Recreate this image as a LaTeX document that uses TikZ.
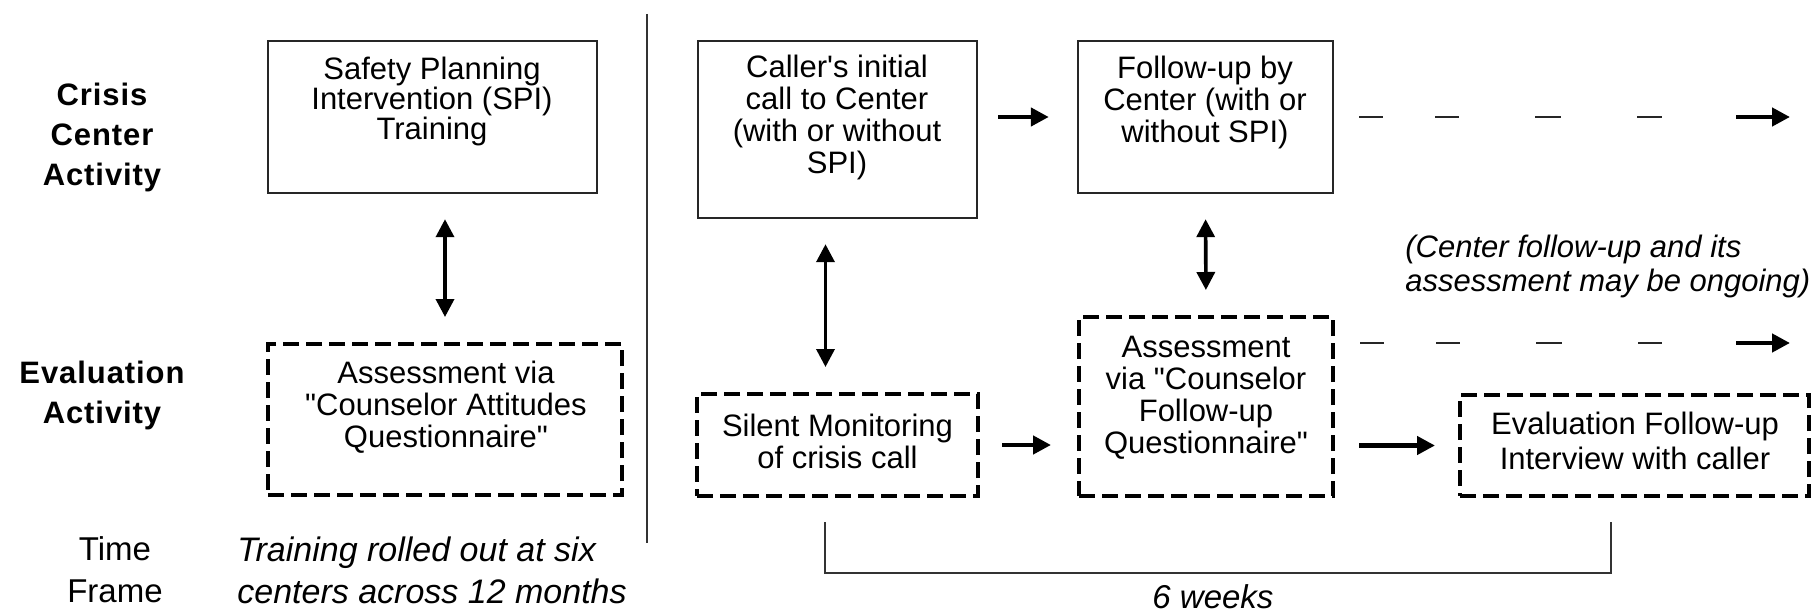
\documentclass[tikz,border=0pt]{standalone}
\usepackage{fontspec}
\setmainfont{Liberation Sans}[Ligatures=TeXOff]
\newfontfamily\headfont[LetterSpace=3,Ligatures=TeXOff]{Liberation Sans}
\usetikzlibrary{arrows.meta}

\tikzset{
  solidbox/.style={draw=black!85, line width=1.2pt, rectangle, inner sep=0pt},
  dashbox/.style={draw=black, line width=2pt, dash pattern=on 8pt off 3.5pt, rectangle, inner sep=0pt},
  boxtext/.style={align=center, inner sep=0pt, font=\fontsize{15.5}{16}\selectfont},
  rowlabel/.style={align=center, inner sep=0pt, font=\headfont\bfseries\fontsize{15.5}{20}\selectfont},
  timetext/.style={inner sep=0pt, font=\fontsize{16.5}{21}\selectfont},
  fatarrow/.style={line width=2.2pt, -{Triangle[length=9pt,width=9pt]}},
  twoway/.style={line width=1.8pt, {Triangle[length=9pt,width=9pt]}-{Triangle[length=9pt,width=9pt]},
    shorten <=12.5pt, shorten >=12.5pt},
  ongoing/.style={draw=black!85, line width=1pt, dash pattern=on 12pt off 26pt on 12pt off 38pt on 13pt off 38pt on 13pt},
}

\begin{document}
\begin{tikzpicture}[x=0.5pt, y=-0.5pt]
  \useasboundingbox (0,0) rectangle (1812,615);

  % Row labels
  \node[rowlabel] (crisislbl) at (102,137) {Crisis\\Center\\Activity};
  \node[rowlabel] (evallbl) at (102,395) {Evaluation\\Activity};
  \node[timetext, align=center] (timelbl) at (115,570) {Time\\Frame};

  % Training phase (left)
  \node[solidbox, minimum width=164.5pt, minimum height=76pt] (spi) at (432.5,117) {};
  \node[boxtext, font=\fontsize{15.5}{15}\selectfont] (spitxt) at (432,101) {Safety Planning\\Intervention (SPI)\\Training};
  \node[dashbox, minimum width=177pt, minimum height=75.5pt] (attq) at (445,419.5) {};
  \node[boxtext] (attqtxt) at (446,407) {Assessment via\\"Counselor Attitudes\\Questionnaire"};
  \node[timetext, align=left, anchor=west, font=\itshape\fontsize{17}{21}\selectfont] (rollout) at (237,570)
    {Training rolled out at six\\centers across 12 months};

  \draw[twoway] (attq.north |- spi.south) -- (attq.north);

  % Separator
  \draw[draw=black!80, line width=1pt] (647,14) -- (647,543);

  % Crisis calls (right)
  \node[solidbox, minimum width=139.5pt, minimum height=88.5pt] (caller) at (837.5,129.5) {};
  \node[boxtext] (callertxt) at (837,117) {Caller's initial\\call to Center\\(with or without\\SPI)};
  \node[solidbox, minimum width=127.5pt, minimum height=76pt] (fu) at (1205.5,117) {};
  \node[boxtext] (futxt) at (1205,102) {Follow-up by\\Center (with or\\without SPI)};

  \node[dashbox, minimum width=140.5pt, minimum height=51pt] (silent) at (837.5,445) {};
  \node[boxtext] (silenttxt) at (837.5,441) {Silent Monitoring\\of crisis call};
  \node[dashbox, minimum width=127pt, minimum height=89.5pt] (cfq) at (1206,406.5) {};
  \node[boxtext] (cfqtxt) at (1206,398) {Assessment\\via "Counselor\\Follow-up\\Questionnaire"};
  \node[dashbox, minimum width=174.5pt, minimum height=50.5pt] (evalfu) at (1634.5,445.5) {};
  \node[boxtext, font=\fontsize{15.5}{17.5}\selectfont] (evalfutxt) at (1635,441) {Evaluation Follow-up\\Interview with caller};

  \node[boxtext, align=left, anchor=west, font=\itshape\fontsize{15.5}{17}\selectfont] (note) at (1405,266)
    {(Center follow-up and its\\assessment may be ongoing)};

  % Arrows
  \draw[fatarrow, shorten <=10pt, shorten >=14pt] (caller.east |- fu.west) -- (fu.west);
  \draw[fatarrow, shorten <=11pt, shorten >=13pt] (silent.east) -- (cfq.west |- silent.east);
  \draw[fatarrow, shorten <=12pt, shorten >=11.5pt] (cfq.east |- evalfu.west) -- (evalfu.west);
  \draw[twoway] ([xshift=-6pt]caller.south) -- ([xshift=-6pt]silent.north);
  \draw[twoway] (fu.south) -- (cfq.north);

  % Ongoing follow-up
  \coordinate (fuout) at (1790,117);
  \coordinate (cfqout) at (1790,343);
  \foreach \src/\dst in {fu/fuout, cfq/cfqout} {
    \draw[ongoing, shorten <=12.5pt] (\src.east |- \dst) -- ([xshift=-64pt]\dst);
    \draw[fatarrow] ([xshift=-27pt]\dst) -- (\dst);
  }

  % Time span
  \coordinate (wkL) at (825,522);
  \coordinate (wkR) at (1611,522);
  \draw[draw=black!80, line width=1pt] (wkL) -- ++(0,51) -| (wkR);
  \node[timetext, font=\itshape\fontsize{16.5}{18.5}\selectfont] (weeks) at (1213,597) {6 weeks};
\end{tikzpicture}
\end{document}
